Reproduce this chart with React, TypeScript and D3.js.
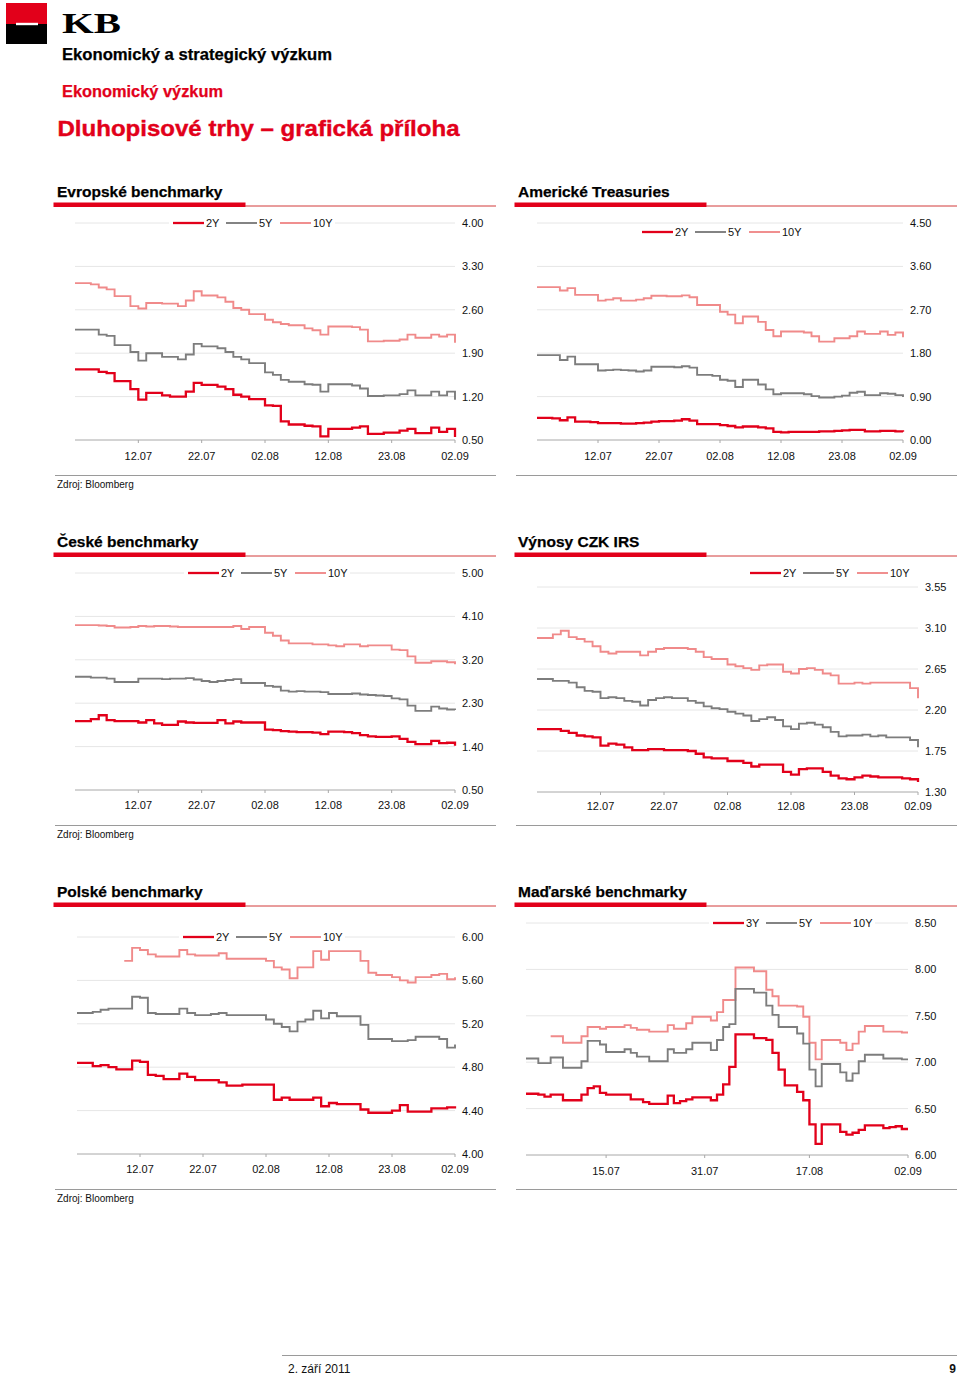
import React from 'react';
import * as d3 from 'd3';

// ---------- DATA ----------
const DATE_TICKS = ['12.07', '22.07', '02.08', '12.08', '23.08', '02.09'];
const DATE_TICK_IDX = [8, 16, 24, 32, 40, 48];
const HU_TICKS = ['15.07', '31.07', '17.08', '02.09'];
const HU_TICK_IDX = [13, 29, 46, 62];

const EU_2Y = [1.64,1.64,1.64,1.60,1.58,1.45,1.45,1.32,1.15,1.26,1.26,1.22,1.20,1.20,1.28,1.42,1.39,1.39,1.36,1.32,1.23,1.20,1.16,1.16,1.06,1.05,0.80,0.75,0.75,0.73,0.72,0.56,0.68,0.68,0.68,0.70,0.72,0.60,0.60,0.62,0.62,0.65,0.68,0.61,0.61,0.70,0.63,0.68,0.55];
const EU_5Y = [2.28,2.28,2.28,2.20,2.18,2.03,2.03,1.92,1.78,1.90,1.90,1.84,1.84,1.80,1.88,2.05,2.01,2.01,1.98,1.92,1.84,1.80,1.74,1.74,1.59,1.55,1.47,1.44,1.44,1.40,1.39,1.28,1.40,1.40,1.40,1.38,1.33,1.21,1.21,1.22,1.22,1.24,1.30,1.22,1.22,1.28,1.22,1.28,1.15];
const EU_10Y = [3.03,3.03,3.01,2.96,2.93,2.82,2.82,2.66,2.62,2.71,2.71,2.70,2.70,2.66,2.75,2.90,2.83,2.83,2.80,2.73,2.63,2.60,2.53,2.53,2.44,2.40,2.37,2.35,2.35,2.30,2.27,2.20,2.33,2.33,2.33,2.32,2.28,2.09,2.09,2.10,2.10,2.12,2.20,2.15,2.15,2.20,2.17,2.20,2.07];

const US_2Y = [0.46,0.46,0.45,0.41,0.47,0.38,0.38,0.37,0.35,0.35,0.35,0.34,0.34,0.35,0.36,0.38,0.39,0.39,0.40,0.43,0.40,0.33,0.33,0.33,0.31,0.29,0.26,0.28,0.28,0.26,0.24,0.17,0.16,0.17,0.17,0.17,0.17,0.18,0.18,0.19,0.20,0.21,0.21,0.18,0.18,0.19,0.19,0.18,0.17];
const US_5Y = [1.76,1.76,1.76,1.66,1.73,1.57,1.57,1.57,1.44,1.45,1.46,1.45,1.44,1.42,1.44,1.52,1.52,1.52,1.51,1.53,1.50,1.35,1.35,1.33,1.25,1.23,1.10,1.25,1.25,1.15,1.05,0.95,0.97,0.97,0.97,0.95,0.91,0.88,0.88,0.90,0.92,0.98,1.00,0.93,0.93,0.97,0.96,0.93,0.89];
const US_10Y = [3.17,3.17,3.17,3.10,3.15,3.01,3.01,3.01,2.89,2.91,2.94,2.89,2.89,2.91,2.94,2.99,2.99,2.98,2.98,3.00,2.96,2.80,2.80,2.80,2.66,2.60,2.42,2.56,2.56,2.45,2.28,2.15,2.25,2.25,2.25,2.23,2.15,2.04,2.04,2.11,2.11,2.15,2.25,2.20,2.20,2.25,2.18,2.23,2.13];

const CZ_2Y = [1.93,1.93,1.97,2.05,1.95,1.93,1.93,1.93,1.90,1.95,1.88,1.85,1.85,1.92,1.90,1.89,1.89,1.89,1.95,1.88,1.92,1.90,1.90,1.90,1.75,1.74,1.72,1.71,1.70,1.70,1.69,1.66,1.71,1.71,1.70,1.68,1.64,1.61,1.60,1.60,1.61,1.56,1.50,1.45,1.45,1.52,1.47,1.48,1.42];
const CZ_5Y = [2.85,2.85,2.83,2.83,2.81,2.74,2.74,2.74,2.81,2.81,2.81,2.80,2.81,2.81,2.82,2.79,2.76,2.74,2.76,2.78,2.80,2.72,2.72,2.72,2.66,2.64,2.56,2.54,2.55,2.54,2.54,2.53,2.49,2.49,2.49,2.50,2.48,2.47,2.46,2.45,2.40,2.38,2.25,2.14,2.14,2.23,2.19,2.17,2.16];
const CZ_10Y = [3.92,3.92,3.92,3.91,3.90,3.87,3.87,3.88,3.90,3.89,3.90,3.90,3.89,3.88,3.88,3.88,3.88,3.88,3.88,3.88,3.90,3.84,3.88,3.88,3.76,3.70,3.60,3.54,3.54,3.54,3.52,3.52,3.50,3.48,3.52,3.52,3.48,3.50,3.50,3.50,3.41,3.40,3.27,3.14,3.14,3.17,3.17,3.15,3.11];

const IRS_2Y = [1.99,1.99,1.99,1.97,1.95,1.92,1.91,1.90,1.81,1.83,1.82,1.79,1.76,1.76,1.77,1.77,1.76,1.76,1.76,1.75,1.72,1.68,1.67,1.67,1.64,1.64,1.62,1.58,1.60,1.60,1.60,1.52,1.49,1.55,1.56,1.56,1.52,1.48,1.45,1.44,1.46,1.48,1.47,1.46,1.46,1.46,1.45,1.44,1.41];
const IRS_5Y = [2.54,2.54,2.52,2.52,2.50,2.45,2.41,2.40,2.33,2.34,2.33,2.30,2.29,2.25,2.31,2.33,2.34,2.33,2.33,2.30,2.28,2.24,2.22,2.21,2.18,2.16,2.14,2.08,2.10,2.12,2.09,2.02,1.99,2.05,2.06,2.04,2.01,1.96,1.91,1.92,1.92,1.93,1.91,1.92,1.90,1.90,1.90,1.87,1.79];
const IRS_10Y = [2.99,2.99,3.03,3.07,3.00,2.98,2.95,2.90,2.84,2.82,2.84,2.84,2.84,2.80,2.84,2.87,2.88,2.88,2.88,2.87,2.84,2.78,2.76,2.76,2.70,2.68,2.66,2.64,2.69,2.70,2.70,2.62,2.60,2.65,2.66,2.64,2.60,2.58,2.49,2.49,2.50,2.49,2.50,2.50,2.50,2.50,2.50,2.44,2.33];

const PL_2Y = [4.84,4.84,4.81,4.82,4.80,4.78,4.78,4.86,4.85,4.73,4.72,4.69,4.69,4.74,4.71,4.68,4.68,4.68,4.66,4.63,4.63,4.64,4.64,4.64,4.64,4.50,4.52,4.50,4.50,4.50,4.52,4.44,4.47,4.46,4.46,4.46,4.41,4.38,4.38,4.38,4.40,4.45,4.39,4.39,4.39,4.42,4.42,4.43,4.42];
const PL_5Y = [5.30,5.30,5.31,5.33,5.34,5.34,5.34,5.45,5.44,5.30,5.29,5.29,5.29,5.34,5.30,5.28,5.28,5.29,5.30,5.28,5.28,5.28,5.28,5.28,5.24,5.20,5.17,5.13,5.22,5.24,5.32,5.25,5.30,5.27,5.27,5.27,5.19,5.06,5.06,5.06,5.04,5.04,5.05,5.08,5.08,5.08,5.06,4.98,5.01];
const PL_10Y = [null,null,null,null,null,null,5.78,5.90,5.88,5.84,5.82,5.82,5.82,5.88,5.84,5.83,5.83,5.83,5.85,5.80,5.80,5.80,5.80,5.80,5.78,5.72,5.70,5.62,5.72,5.72,5.87,5.79,5.87,5.87,5.87,5.87,5.78,5.67,5.65,5.65,5.63,5.60,5.58,5.63,5.63,5.65,5.66,5.61,5.63];

const HU_3Y = [6.66,6.66,6.65,6.63,6.65,6.65,6.59,6.59,6.59,6.65,6.72,6.74,6.67,6.65,6.65,6.65,6.65,6.60,6.60,6.57,6.55,6.55,6.55,6.64,6.56,6.58,6.60,6.62,6.62,6.62,6.59,6.65,6.76,6.95,7.30,7.30,7.30,7.26,7.26,7.24,7.10,6.92,6.75,6.75,6.68,6.59,6.33,6.12,6.33,6.33,6.33,6.25,6.22,6.24,6.27,6.32,6.32,6.32,6.29,6.30,6.31,6.28,6.28];
const HU_5Y = [7.04,7.04,6.99,6.99,7.05,7.05,6.94,6.94,6.94,7.01,7.23,7.23,7.19,7.11,7.11,7.11,7.14,7.10,7.06,7.06,7.01,7.01,7.01,7.14,7.10,7.10,7.14,7.21,7.21,7.21,7.13,7.24,7.38,7.41,7.79,7.79,7.79,7.75,7.75,7.61,7.51,7.38,7.38,7.38,7.31,7.20,6.92,6.74,6.98,6.98,6.98,6.89,6.80,6.88,7.01,7.08,7.08,7.08,7.04,7.04,7.04,7.03,7.03];
const HU_10Y = [null,null,null,null,7.28,7.28,7.21,7.21,7.21,7.28,7.38,7.38,7.36,7.38,7.38,7.38,7.40,7.37,7.35,7.35,7.33,7.33,7.33,7.40,7.36,7.36,7.42,7.49,7.49,7.49,7.45,7.54,7.67,7.67,8.02,8.02,8.02,7.98,7.98,7.78,7.71,7.61,7.61,7.61,7.60,7.49,7.21,7.03,7.24,7.24,7.24,7.21,7.13,7.20,7.33,7.39,7.39,7.39,7.33,7.33,7.33,7.32,7.32];

// ---------- STYLE ----------
const FONT = "'Liberation Sans', Arial, Helvetica, sans-serif";
const RED = '#e2001a';
const COL_SHORT = '#e2001a';
const COL_MID = '#7d7d7d';
const COL_LONG = '#f08a8a';

type Series = { name: string; values: (number | null)[]; color: string; width: number };
type ChartCfg = {
  title: string;
  panelX: number;
  titleY: number;
  left: number; right: number; top: number; bottom: number;
  yMin: number; yMax: number;
  ticks: string[]; tickIdx: number[];
  legendX: number; legendY: number;
  xLabelY: number;
  sepY: number;
  source: boolean;
  series: Series[];
};

const mk = (a: string, av: (number | null)[], b: string, bv: (number | null)[], c: string, cv: (number | null)[]): Series[] => [
  { name: a, values: av, color: COL_SHORT, width: 2.3 },
  { name: b, values: bv, color: COL_MID, width: 1.9 },
  { name: c, values: cv, color: COL_LONG, width: 1.9 },
];

const CHARTS: ChartCfg[] = [
  { title: 'Evropské benchmarky', panelX: 55, titleY: 197, left: 75, right: 455, top: 223, bottom: 440, yMin: 0.5, yMax: 4.0,
    ticks: DATE_TICKS, tickIdx: DATE_TICK_IDX, legendX: 173, legendY: 223, xLabelY: 460, sepY: 475.5, source: true,
    series: mk('2Y', EU_2Y, '5Y', EU_5Y, '10Y', EU_10Y) },
  { title: 'Americké Treasuries', panelX: 516, titleY: 197, left: 537, right: 903, top: 223, bottom: 440, yMin: 0, yMax: 4.5,
    ticks: DATE_TICKS, tickIdx: DATE_TICK_IDX, legendX: 642, legendY: 232, xLabelY: 460, sepY: 475.5, source: false,
    series: mk('2Y', US_2Y, '5Y', US_5Y, '10Y', US_10Y) },
  { title: 'České benchmarky', panelX: 55, titleY: 547, left: 75, right: 455, top: 573, bottom: 790, yMin: 0.5, yMax: 5.0,
    ticks: DATE_TICKS, tickIdx: DATE_TICK_IDX, legendX: 188, legendY: 573, xLabelY: 809, sepY: 825.5, source: true,
    series: mk('2Y', CZ_2Y, '5Y', CZ_5Y, '10Y', CZ_10Y) },
  { title: 'Výnosy CZK IRS', panelX: 516, titleY: 547, left: 537, right: 918, top: 587, bottom: 792, yMin: 1.3, yMax: 3.55,
    ticks: DATE_TICKS, tickIdx: DATE_TICK_IDX, legendX: 750, legendY: 573, xLabelY: 810, sepY: 825.5, source: false,
    series: mk('2Y', IRS_2Y, '5Y', IRS_5Y, '10Y', IRS_10Y) },
  { title: 'Polské benchmarky', panelX: 55, titleY: 897, left: 77, right: 455, top: 937, bottom: 1154, yMin: 4.0, yMax: 6.0,
    ticks: DATE_TICKS, tickIdx: DATE_TICK_IDX, legendX: 183, legendY: 937, xLabelY: 1173, sepY: 1189.5, source: true,
    series: mk('2Y', PL_2Y, '5Y', PL_5Y, '10Y', PL_10Y) },
  { title: 'Maďarské benchmarky', panelX: 516, titleY: 897, left: 526, right: 908, top: 923, bottom: 1155, yMin: 6.0, yMax: 8.5,
    ticks: HU_TICKS, tickIdx: HU_TICK_IDX, legendX: 713, legendY: 923, xLabelY: 1175, sepY: 1189.5, source: false,
    series: mk('3Y', HU_3Y, '5Y', HU_5Y, '10Y', HU_10Y) },
];

const fmt = d3.format('.2f');

function Chart({ c }: { c: ChartCfg }) {
  const n = c.series[0].values.length;
  const x = d3.scaleLinear().domain([0, n - 1]).range([c.left, c.right]);
  const y = d3.scaleLinear().domain([c.yMin, c.yMax]).range([c.bottom, c.top]);
  const yTicks = d3.range(6).map((i) => c.yMin + (i * (c.yMax - c.yMin)) / 5);
  const line = d3
    .line<number | null>()
    .defined((d) => d != null)
    .x((_, i) => x(i))
    .y((d) => y(d as number))
    .curve(d3.curveStepAfter);
  const pw = 441;
  const legOff = [0, 53, 107];
  const legLen = 31;
  return (
    <g>
      <text x={c.panelX + 2} y={c.titleY} fontFamily={FONT} fontWeight="bold" fontSize={15.5} fill="#000" stroke="#000" strokeWidth={0.25}>{c.title}</text>
      <rect x={c.panelX - 1.5} y={c.titleY + 5.5} width={192} height={4.5} fill={RED} />
      <line x1={c.panelX + 190} x2={c.panelX + pw} y1={c.titleY + 9} y2={c.titleY + 9} stroke="#d23a3a" strokeWidth={1} />
      {yTicks.map((t, i) => (
        <g key={i}>
          {i > 0 && <line x1={c.left} x2={c.right} y1={y(t)} y2={y(t)} stroke="#e6e6e6" strokeWidth={1} />}
          <text x={c.right + 7} y={y(t) + 4} fontFamily={FONT} fontSize={11} fill="#111">{fmt(t)}</text>
        </g>
      ))}
      <line x1={c.left} x2={c.right} y1={c.bottom} y2={c.bottom} stroke="#a8a8a8" strokeWidth={1} />
      {c.tickIdx.map((ti, i) => (
        <g key={i}>
          <line x1={x(ti)} x2={x(ti)} y1={c.bottom} y2={c.bottom + 3} stroke="#a8a8a8" strokeWidth={1} />
          <text x={x(ti)} y={c.xLabelY} textAnchor="middle" fontFamily={FONT} fontSize={11} fill="#111">{c.ticks[i]}</text>
        </g>
      ))}
      {[...c.series].reverse().map((s) => (
        <path key={s.name} d={line(s.values) || ''} fill="none" stroke={s.color} strokeWidth={s.width} strokeLinejoin="miter" />
      ))}
      <rect x={c.legendX - 4} y={c.legendY - 7} width={legOff[2] + legLen + 28} height={14} fill="#fff" />
      {c.series.map((s, i) => (
        <g key={s.name}>
          <line x1={c.legendX + legOff[i]} x2={c.legendX + legOff[i] + legLen} y1={c.legendY} y2={c.legendY} stroke={s.color} strokeWidth={s.width} />
          <text x={c.legendX + legOff[i] + legLen + 2} y={c.legendY + 4} fontFamily={FONT} fontSize={11} fill="#111">{s.name}</text>
        </g>
      ))}
      <line x1={c.panelX} x2={c.panelX + pw} y1={c.sepY} y2={c.sepY} stroke="#9a9a9a" strokeWidth={1} />
      {c.source && (
        <text x={c.panelX + 2} y={c.sepY + 12.5} fontFamily={FONT} fontSize={10} fill="#111">Zdroj: Bloomberg</text>
      )}
    </g>
  );
}

export default function App() {
  return (
    <svg width={960} height={1375} style={{ position: 'absolute', left: 0, top: 0, background: '#fff' }}>
      <rect x={0} y={0} width={960} height={1375} fill="#fff" />
      <rect x={6} y={3} width={41} height={21} fill={RED} />
      <rect x={6} y={24} width={41} height={20} fill="#000" />
      <rect x={16} y={22.8} width={22} height={2.4} fill="#fff" />
      <text x={62} y={33} fontFamily="'Liberation Serif', 'Times New Roman', serif" fontWeight="bold" fontSize={29} textLength={59} lengthAdjust="spacingAndGlyphs" fill="#000">KB</text>
      <text x={62} y={59.5} fontFamily={FONT} fontWeight="bold" fontSize={16} textLength={270} lengthAdjust="spacingAndGlyphs" fill="#000" stroke="#000" strokeWidth={0.25}>Ekonomický a strategický výzkum</text>
      <text x={62} y={97} fontFamily={FONT} fontWeight="bold" fontSize={16} textLength={161} lengthAdjust="spacingAndGlyphs" fill={RED} stroke={RED} strokeWidth={0.25}>Ekonomický výzkum</text>
      <text x={57.5} y={136} fontFamily={FONT} fontWeight="bold" fontSize={22.5} textLength={402} lengthAdjust="spacingAndGlyphs" fill={RED} stroke={RED} strokeWidth={0.4}>Dluhopisové trhy – grafická příloha</text>
      {CHARTS.map((c) => (
        <Chart key={c.title} c={c} />
      ))}
      <line x1={282} x2={957} y1={1355.5} y2={1355.5} stroke="#9a9a9a" strokeWidth={1} />
      <text x={288} y={1373} fontFamily={FONT} fontSize={12} fill="#111">2. září 2011</text>
      <text x={956} y={1373} textAnchor="end" fontFamily={FONT} fontWeight="bold" fontSize={12} fill="#111">9</text>
    </svg>
  );
}
